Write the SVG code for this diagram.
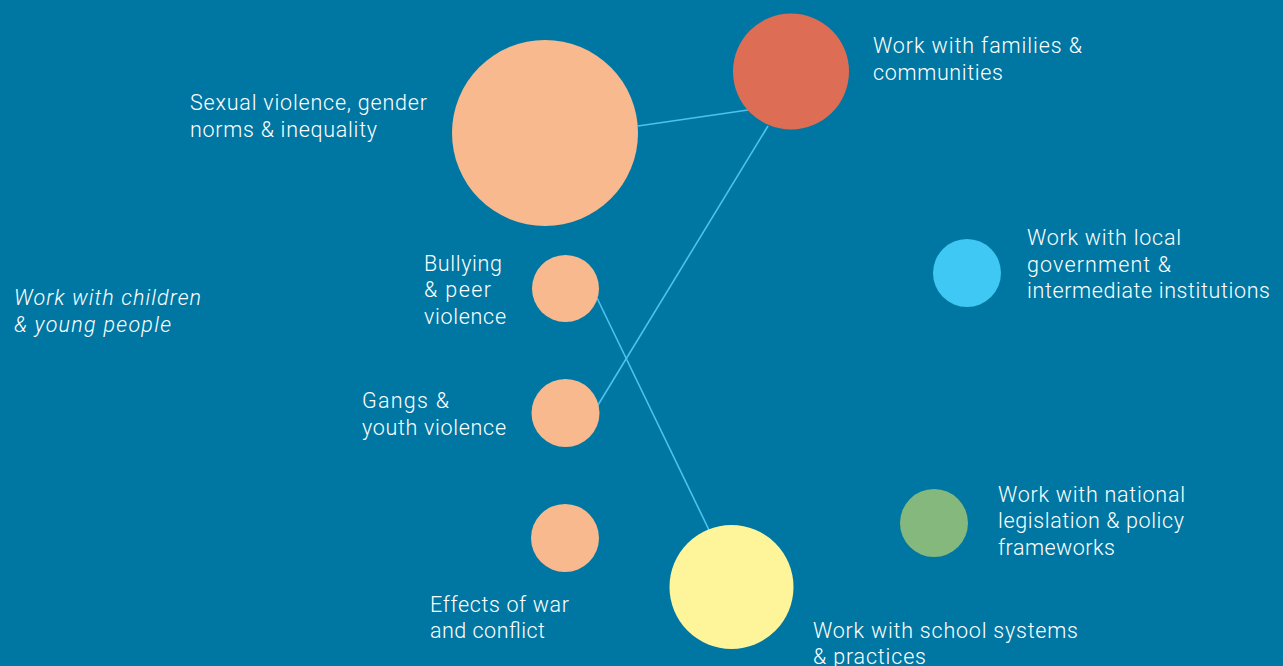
<svg xmlns="http://www.w3.org/2000/svg" width="1283" height="666" viewBox="0 0 1283 666">
<style>
.t{font-family:Roboto,"Liberation Sans",Arial,sans-serif;font-weight:300;font-size:21.5px;fill:#ffffff}
.i{font-style:italic}
.c{stroke:#4cc3ee;stroke-width:1.6;fill:none}
</style>
<rect width="1283" height="666" fill="#0077a3"/>
<g id="connectors">
<line class="c" x1="638" y1="126" x2="748" y2="110"/>
<line class="c" x1="598" y1="405" x2="768" y2="126"/>
<line class="c" x1="597" y1="298" x2="709" y2="530"/>
</g>
<g id="children"><text class="t i" x="14" y="305" textLength="187" lengthAdjust="spacing">Work with children</text><text class="t i" x="14" y="332" textLength="157" lengthAdjust="spacing">&amp; young people</text></g>
<g id="sexual"><circle cx="545" cy="133" r="93" fill="#f9b98e"/><text class="t" x="190" y="110" textLength="237" lengthAdjust="spacing">Sexual violence, gender</text><text class="t" x="190" y="137" textLength="187" lengthAdjust="spacing">norms &amp; inequality</text></g>
<g id="bullying"><circle cx="565.5" cy="288.5" r="33.5" fill="#f9b98e"/><text class="t" x="424" y="271" textLength="78" lengthAdjust="spacing">Bullying</text><text class="t" x="424" y="297" textLength="67" lengthAdjust="spacing">&amp; peer</text><text class="t" x="424" y="324" textLength="82" lengthAdjust="spacing">violence</text></g>
<g id="gangs"><circle cx="565.5" cy="413" r="34" fill="#f9b98e"/><text class="t" x="362" y="408" textLength="87" lengthAdjust="spacing">Gangs &amp;</text><text class="t" x="362" y="435" textLength="144" lengthAdjust="spacing">youth violence</text></g>
<g id="war"><circle cx="565" cy="538" r="34" fill="#f9b98e"/><text class="t" x="430" y="612" textLength="139" lengthAdjust="spacing">Effects of war</text><text class="t" x="430" y="638" textLength="115" lengthAdjust="spacing">and conflict</text></g>
<g id="families"><circle cx="791" cy="71.5" r="58" fill="#de6d55"/><text class="t" x="873" y="53" textLength="209" lengthAdjust="spacing">Work with families &amp;</text><text class="t" x="873" y="80" textLength="130" lengthAdjust="spacing">communities</text></g>
<g id="local"><circle cx="967" cy="273" r="34" fill="#3fc8f4"/><text class="t" x="1027" y="245" textLength="154" lengthAdjust="spacing">Work with local</text><text class="t" x="1027" y="272" textLength="144" lengthAdjust="spacing">government &amp;</text><text class="t" x="1027" y="298" textLength="243" lengthAdjust="spacing">intermediate institutions</text></g>
<g id="national"><circle cx="934" cy="523" r="34" fill="#85b87d"/><text class="t" x="998" y="502" textLength="187" lengthAdjust="spacing">Work with national</text><text class="t" x="998" y="528" textLength="186" lengthAdjust="spacing">legislation &amp; policy</text><text class="t" x="998" y="555" textLength="117" lengthAdjust="spacing">frameworks</text></g>
<g id="school"><circle cx="731.5" cy="587" r="62" fill="#fef59b"/><text class="t" x="813" y="638" textLength="265" lengthAdjust="spacing">Work with school systems</text><text class="t" x="813" y="664" textLength="113" lengthAdjust="spacing">&amp; practices</text></g>
</svg>
